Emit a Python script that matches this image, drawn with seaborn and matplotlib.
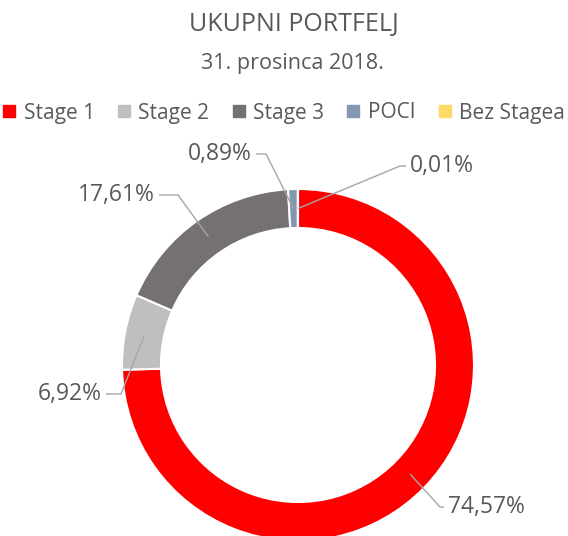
import numpy as np
import matplotlib.pyplot as plt
import seaborn as sns

# podaci
categories = ["Stage 1", "Stage 2", "Stage 3", "POCI", "Bez Stagea"]
shares = [74.57, 6.92, 17.61, 0.89, 0.01]
labels = ["74,57%", "6,92%", "17,61%", "0,89%", "0,01%"]
colors = ["#FF0000", "#BFBFBF", "#767171", "#8497B0", "#FFD966"]

W, H = 568, 536


def main():
    sns.set_theme(style="white")
    plt.rcParams['font.family'] = ['Open Sans', 'DejaVu Sans']
    txt = "#595959"

    fig = plt.figure(figsize=(W / 100, H / 100), dpi=100)
    ax = fig.add_axes([0, 0, 1, 1])

    cx, cy, R = 298, H - 365, 176
    wedges, _ = ax.pie(shares, colors=colors, startangle=90, counterclock=False,
                       center=(cx, cy), radius=R,
                       wedgeprops=dict(width=39, edgecolor="white", linewidth=1.5))
    ax.set_xlim(0, W)
    ax.set_ylim(0, H)
    ax.set_aspect("equal")
    ax.axis("off")

    # pozicije natpisa (pikseli od vrha): tekst, lakat, strana
    label_pos = [((448, 507), (440, 507), "left"),
                 ((102, 394), (121, 394), "right"),
                 ((155, 195), (178, 195), "right"),
                 ((252, 154), (266, 154), "right"),
                 ((410, 166), (400, 166), "left")]

    r_mid = R - 19.5
    for w, lab, (tp, elbow, side) in zip(wedges, labels, label_pos):
        ang = np.deg2rad((w.theta1 + w.theta2) / 2)
        ax_, ay_ = cx + r_mid * np.cos(ang), cy + r_mid * np.sin(ang)
        ex, ey = elbow[0], H - elbow[1]
        tx, ty = tp[0], H - tp[1]
        ax.plot([ax_, ex, tx + (-4 if side == "left" else 4)], [ay_, ey, ty],
                color="#A6A6A6", lw=1.0, solid_capstyle="butt")
        ax.text(tx, ty, lab, ha=side, va="center", fontsize=16.5, color=txt)

    fig.text(294 / W, 1 - 24 / H, "UKUPNI PORTFELJ", ha="center", va="center",
             fontsize=18, color=txt)
    fig.text(292 / W, 1 - 64 / H, "31. prosinca 2018.", ha="center", va="center",
             fontsize=15.5, color=txt)

    handles = [plt.Line2D([], [], marker="s", ls="", color=c, markersize=8) for c in colors]
    fig.legend(handles, categories, loc="center", bbox_to_anchor=(0.5, 1 - 113 / H),
               ncol=5, frameon=False, fontsize=15, handlelength=0.6,
               handletextpad=0.4, columnspacing=1.1, labelcolor=txt)

    fig.savefig("out.png", dpi=100)


if __name__ == "__main__":
    main()
